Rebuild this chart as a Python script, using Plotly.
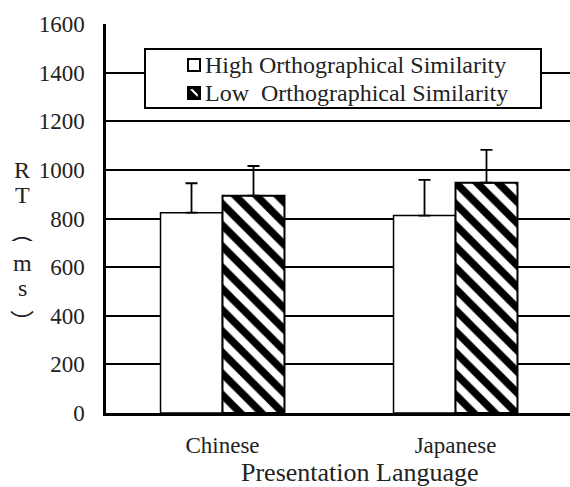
import plotly.graph_objects as go

categories = ["Chinese", "Japanese"]
high_vals = [824, 812]
high_err = [121, 147]
low_vals = [894, 947]
low_err = [122, 135]
yticks = [0, 200, 400, 600, 800, 1000, 1200, 1400, 1600]
legend_labels = ["High Orthographical Similarity", "Low  Orthographical Similarity"]

FONT = "Liberation Serif, Times New Roman, serif"
CJK = "Noto Sans CJK JP"
TXT = "#222"
W, H = 570, 487
L, R, T, B = 106, 0, 24, 74
pw = W - L - R
ph = H - T - B


def px(x):
    return (x - L) / pw


def py(y):
    return (T + ph - y) / ph


fig = go.Figure()
fig.add_trace(go.Bar(
    x=categories, y=high_vals, name=legend_labels[0],
    marker=dict(color="white", line=dict(color="black", width=1.5)),
    error_y=dict(type="data", array=high_err, arrayminus=[0, 0], symmetric=False,
                 color="black", thickness=1.8, width=6),
))
fig.add_trace(go.Bar(
    x=categories, y=low_vals, name=legend_labels[1],
    marker=dict(color="white", line=dict(color="black", width=2),
                pattern=dict(shape="\\", fgcolor="black", bgcolor="white",
                             size=15, solidity=0.5, fillmode="replace")),
    error_y=dict(type="data", array=low_err, arrayminus=[0, 0], symmetric=False,
                 color="black", thickness=1.8, width=6),
))

fig.update_layout(
    width=W, height=H,
    margin=dict(l=L, r=R, t=T, b=B),
    paper_bgcolor="white", plot_bgcolor="white",
    font=dict(family=FONT, color=TXT, size=23),
    barmode="group", bargap=0.468, bargroupgap=0,
    showlegend=False,
    xaxis=dict(range=[-0.5, -0.5 + pw / 233], showgrid=False, showline=True,
               linecolor="black", linewidth=2.5, ticks="",
               tickfont=dict(family=FONT, size=23, color=TXT), ticklabelstandoff=10),
    yaxis=dict(range=[0, 1600], tickvals=yticks, showgrid=True, gridcolor="black",
               gridwidth=1.5, showline=True, linecolor="black", linewidth=2.5,
               ticks="", tickfont=dict(family=FONT, size=23, color=TXT),
               ticklabelstandoff=14, zeroline=False),
)

# x-axis title (offset to the right as in the reference)
fig.add_annotation(text="Presentation Language", xref="paper", yref="paper",
                   x=px(360), y=py(472), xanchor="center", yanchor="middle",
                   showarrow=False, font=dict(family=FONT, size=26, color=TXT))

# custom legend box
fig.add_shape(type="rect", xref="paper", yref="paper",
              x0=px(145), x1=px(541), y0=py(108), y1=py(49),
              fillcolor="white", line=dict(color="black", width=2))
# symbol 1: open square
fig.add_shape(type="rect", xref="paper", yref="paper",
              x0=px(188), x1=px(200), y0=py(71), y1=py(59),
              fillcolor="white", line=dict(color="black", width=2))
# symbol 2: hatched square
fig.add_shape(type="rect", xref="paper", yref="paper",
              x0=px(188), x1=px(200), y0=py(99), y1=py(87),
              fillcolor="black", line=dict(color="black", width=2))
fig.add_shape(type="path", xref="paper", yref="paper",
              path=f"M {px(190)} {py(89.5)} L {px(192.5)} {py(89)} L {px(198)} {py(94.5)} L {px(197.5)} {py(97)} Z",
              fillcolor="white", line=dict(width=0))
for lab, yy in zip(legend_labels, [65, 93]):
    fig.add_annotation(text=lab.replace("  ", "&nbsp; "), xref="paper", yref="paper",
                       x=px(203), y=py(yy), xanchor="left", yanchor="middle",
                       showarrow=False, font=dict(family=FONT, size=24, color=TXT))

# stacked vertical y-axis title: R T ︵ m s ︶
chars = [("R", FONT, 170), ("T", FONT, 195), ("︵", CJK, 230),
         ("m", FONT, 263), ("s", FONT, 288), ("︶", CJK, 320)]
for ch, fam, yy in chars:
    fig.add_annotation(text=ch, xref="paper", yref="paper", height=22,
                       x=px(22), y=py(yy), xanchor="center", yanchor="middle",
                       showarrow=False, font=dict(family=fam, size=24, color=TXT))

fig.write_html("out.html", config={"displayModeBar": False},
               post_script="document.body.style.margin='0';")
